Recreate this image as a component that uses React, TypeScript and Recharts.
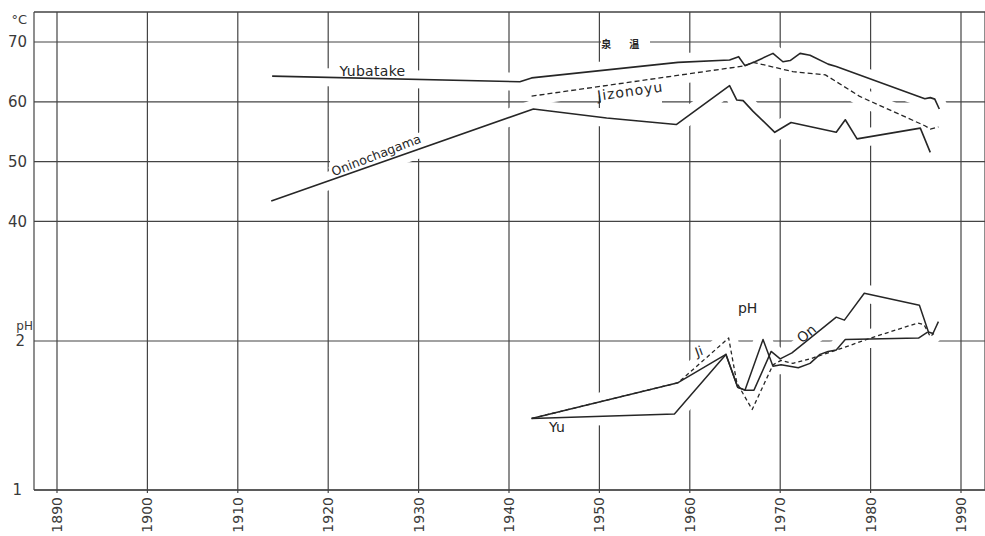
import React from 'react';
import {
  ComposedChart,
  Line,
  XAxis,
  YAxis,
  CartesianGrid,
  ReferenceLine,
  ReferenceDot,
  Label,
} from 'recharts';

type Pt = [number, number];

// Decade ticks along the bottom
const DECADES = [1890, 1900, 1910, 1920, 1930, 1940, 1950, 1960, 1970, 1980, 1990];
const TEMP_TICKS = [40, 50, 60, 70];
const PH_TICKS = [1, 2];

// Spring temperatures (°C) by year
const YUBATAKE_T: Pt[] = [
  [1913.8, 64.3], [1941.2, 63.35], [1942.5, 64.0], [1958.7, 66.6], [1964.4, 67.0],
  [1965.4, 67.55], [1966.1, 66.05], [1967.2, 66.7], [1969.2, 68.1], [1970.3, 66.7],
  [1971.1, 66.9], [1972.2, 68.1], [1973.3, 67.8], [1975.3, 66.3], [1976.2, 65.9],
  [1986.0, 60.5], [1986.6, 60.7], [1987.1, 60.45], [1987.6, 58.8],
];
const JIZONOYU_T: Pt[] = [
  [1942.5, 60.95], [1966.0, 66.0], [1967.0, 66.6], [1971.4, 65.05], [1975.0, 64.5],
  [1978.8, 60.9], [1986.0, 56.0], [1986.6, 55.45], [1987.5, 55.8],
];
const ONINO_T: Pt[] = [
  [1913.7, 43.4], [1942.7, 58.8], [1950.8, 57.3], [1958.5, 56.2], [1964.4, 62.7],
  [1965.2, 60.3], [1965.9, 60.2], [1967.0, 58.4], [1969.4, 54.9], [1971.2, 56.55],
  [1976.2, 54.9], [1977.2, 57.0], [1978.5, 53.8], [1985.5, 55.6], [1986.6, 51.55],
];

// pH by year
const YU_PH: Pt[] = [
  [1942.5, 1.48], [1958.3, 1.51], [1964.0, 1.91], [1965.3, 1.69], [1966.1, 1.67],
  [1968.1, 2.01], [1969.2, 1.83], [1970.1, 1.84], [1972.0, 1.82], [1973.3, 1.85],
  [1974.4, 1.91], [1975.3, 1.93], [1976.2, 1.94], [1977.2, 2.01], [1985.3, 2.02],
  [1986.3, 2.06],
];
const ON_PH: Pt[] = [
  [1942.5, 1.48], [1958.7, 1.72], [1964.0, 1.91], [1965.3, 1.69], [1966.1, 1.67],
  [1967.1, 1.67], [1969.0, 1.93], [1970.0, 1.88], [1971.3, 1.92], [1976.2, 2.16],
  [1977.1, 2.14], [1979.3, 2.32], [1985.4, 2.24], [1986.4, 2.06], [1986.9, 2.05],
  [1987.5, 2.13],
];
const JI_PH: Pt[] = [
  [1942.5, 1.48], [1958.7, 1.72], [1964.3, 2.02], [1965.2, 1.72], [1966.9, 1.54],
  [1969.2, 1.84], [1970.1, 1.87], [1971.4, 1.85], [1973.3, 1.88], [1977.7, 1.97],
  [1980.0, 2.02], [1985.2, 2.12], [1985.9, 2.11], [1986.6, 2.03], [1987.0, 2.05],
];

const rows = (pts: Pt[]) => pts.map(([year, v]) => ({ year, v }));

// Axis extents: the grid runs a little past the first and last decade
const X_DOMAIN: [number, number] = [1887.456, 1992.655];
const T_DOMAIN: [number, number] = [-4.92, 75.02];
const PH_DOMAIN: [number, number] = [1, 4.208];

const FONT = '"DejaVu Sans", Verdana, sans-serif';
const CJK = '"Noto Sans CJK JP", sans-serif';
const INK = '#262626';
const GRID = '#444';
const TEXT = '#3a3a3a';

type Tag = {
  text: string;
  x: number;
  y: number;
  axis: 't' | 'ph';
  angle?: number;
  size?: number;
  bold?: boolean;
  spacing?: number;
  family?: string;
  // white backing behind the text (or a bare break in a rule when text is empty)
  bg?: { w: number; h: number };
};

const TAGS: Tag[] = [
  // breaks in the rules beside the lettering
  { text: '', x: 1952.89, y: 70, axis: 't', bg: { w: 49, h: 6 } },
  { text: '', x: 1953.55, y: 60, axis: 't', bg: { w: 61, h: 5 } },
  { text: '', x: 1921.75, y: 50, axis: 't', bg: { w: 28, h: 5 } },
  { text: 'Yubatake', x: 1924.9, y: 65.23, axis: 't', size: 14, spacing: 0.3 },
  { text: 'Jizonoyu', x: 1953.4, y: 61.8, axis: 't', angle: -8, size: 14, spacing: 1 },
  { text: 'Oninochagama', x: 1925.3, y: 51.1, axis: 't', angle: -21, size: 12.5, bg: { w: 98, h: 11 } },
  { text: '泉', x: 1950.75, y: 69.8, axis: 't', size: 10, bold: true, family: CJK },
  { text: '温', x: 1953.85, y: 69.8, axis: 't', size: 10, bold: true, family: CJK },
  { text: 'pH', x: 1966.4, y: 2.22, axis: 'ph', size: 14 },
  { text: 'Ji', x: 1961.0, y: 1.93, axis: 'ph', angle: -20, size: 13 },
  { text: 'On', x: 1972.9, y: 2.05, axis: 'ph', angle: -40, size: 14 },
  { text: 'Yu', x: 1945.3, y: 1.425, axis: 'ph', size: 14 },
];

const TagShape = ({ cx, cy, tag }: { cx: number; cy: number; tag: Tag }) => (
  <g transform={`translate(${cx},${cy}) rotate(${tag.angle ?? 0})`}>
    {tag.bg && (
      <rect x={-tag.bg.w / 2} y={-tag.bg.h / 2} width={tag.bg.w} height={tag.bg.h} fill="#fff" />
    )}
    {tag.text && (
      <text
        x={0}
        y={0}
        textAnchor="middle"
        dominantBaseline="central"
        fontSize={tag.size}
        fontWeight={tag.bold ? 700 : 400}
        letterSpacing={tag.spacing ?? 0}
        fontFamily={tag.family ?? FONT}
        fill={INK}
      >
        {tag.text}
      </text>
    )}
  </g>
);

const YearTick = ({ x, y, payload }: any) => (
  <text
    x={x}
    y={y}
    transform={`rotate(-90 ${x} ${y})`}
    textAnchor="end"
    dominantBaseline="central"
    fontSize={14}
    fontFamily={FONT}
    fill={TEXT}
  >
    {payload.value}
  </text>
);

const SERIES = [
  { key: 'yubatake', data: rows(YUBATAKE_T), axis: 't', dash: undefined, width: 1.6 },
  { key: 'jizonoyu', data: rows(JIZONOYU_T), axis: 't', dash: '5 3', width: 1.3 },
  { key: 'onino', data: rows(ONINO_T), axis: 't', dash: undefined, width: 1.6 },
  { key: 'yu', data: rows(YU_PH), axis: 'ph', dash: undefined, width: 1.5 },
  { key: 'on', data: rows(ON_PH), axis: 'ph', dash: undefined, width: 1.5 },
  { key: 'ji', data: rows(JI_PH), axis: 'ph', dash: '4 3', width: 1.3 },
];

const tickLabel = (value: string, offset: number, dy = 0, size = 15) => (
  <Label value={value} position="left" offset={offset} dy={dy} fontSize={size} fontFamily={FONT} fill={TEXT} />
);

export default function App() {
  return (
    <div style={{ position: 'absolute', left: 0, top: 0, background: '#fff' }}>
      <ComposedChart width={985} height={536} margin={{ top: 12, right: 0, bottom: 0, left: 34 }}>
        <CartesianGrid yAxisId="t" stroke={GRID} strokeWidth={1.2} />
        <CartesianGrid yAxisId="ph" vertical={false} stroke={GRID} strokeWidth={1.2} />
        <XAxis
          dataKey="year"
          type="number"
          domain={X_DOMAIN}
          ticks={DECADES}
          interval={0}
          allowDataOverflow
          height={46}
          tickSize={3}
          tickMargin={4}
          tick={<YearTick />}
          axisLine={{ stroke: GRID, strokeWidth: 1.2 }}
          tickLine={{ stroke: GRID, strokeWidth: 1.2 }}
        />
        <YAxis yAxisId="t" type="number" domain={T_DOMAIN} ticks={TEMP_TICKS} allowDataOverflow hide />
        <YAxis yAxisId="ph" type="number" domain={PH_DOMAIN} ticks={PH_TICKS} allowDataOverflow hide />

        {/* white casing under every trace so the rules break where a trace crosses them */}
        {SERIES.map((s) => (
          <Line
            key={`${s.key}-casing`}
            data={s.data}
            dataKey="v"
            yAxisId={s.axis}
            stroke="#fff"
            strokeWidth={18}
            strokeLinejoin="round"
            strokeLinecap="butt"
            dot={false}
            activeDot={false}
            legendType="none"
            isAnimationActive={false}
          />
        ))}
        {SERIES.map((s) => (
          <Line
            key={s.key}
            data={s.data}
            dataKey="v"
            yAxisId={s.axis}
            stroke={INK}
            strokeWidth={s.width}
            strokeDasharray={s.dash}
            strokeLinejoin="round"
            dot={false}
            activeDot={false}
            isAnimationActive={false}
          />
        ))}

        {/* scale numbers beside the rules */}
        {TEMP_TICKS.map((v) => (
          <ReferenceLine key={`lab${v}`} yAxisId="t" y={v} stroke="none">
            {tickLabel(String(v), 7)}
            {v === 70 && tickLabel('°C', 7, -23, 13)}
          </ReferenceLine>
        ))}
        <ReferenceLine yAxisId="ph" y={2} stroke="none">
          {tickLabel('2', 9)}
          {tickLabel('pH', 1, -15, 12)}
        </ReferenceLine>
        <ReferenceLine yAxisId="ph" y={1} stroke="none">
          {tickLabel('1', 12)}
        </ReferenceLine>

        {TAGS.map((t, i) => (
          <ReferenceDot
            key={`tag${i}`}
            x={t.x}
            y={t.y}
            yAxisId={t.axis}
            r={0}
            shape={(p: any) => <TagShape cx={p.cx} cy={p.cy} tag={t} />}
          />
        ))}
      </ComposedChart>
    </div>
  );
}
